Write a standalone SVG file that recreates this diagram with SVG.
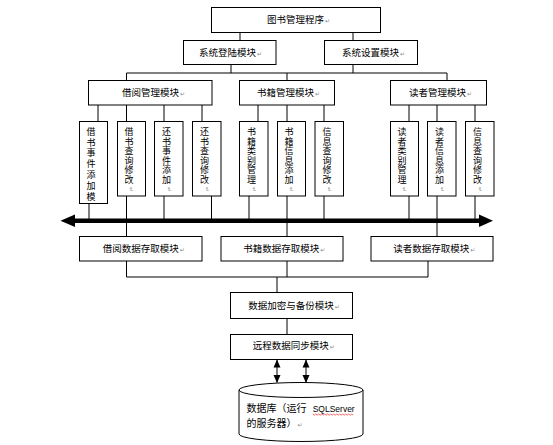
<svg xmlns="http://www.w3.org/2000/svg" width="553" height="445" viewBox="0 0 553 445">
<style>
.box{fill:#fff;stroke:#000;stroke-width:1}
.ln{fill:none;stroke:#000;stroke-width:1}
.t{font-family:"Noto Sans CJK SC","DejaVu Sans",sans-serif;font-size:9.5px;fill:#000}
.v{font-family:"Noto Sans CJK SC","DejaVu Sans",sans-serif;font-size:9px;fill:#000;text-anchor:middle}
.pm{font-family:"DejaVu Sans",sans-serif;font-size:6px;fill:#888}
.lat{font-family:"Liberation Sans",sans-serif;font-size:9px;fill:#000}
</style>
<defs>
<marker id="ah" viewBox="0 0 8 8" refX="7.5" refY="4" markerWidth="8" markerHeight="8" markerUnits="userSpaceOnUse" orient="auto-start-reverse">
<path d="M0,0.5 L8,4 L0,7.5 Z" fill="#000"/>
</marker>
</defs>
<rect width="553" height="445" fill="#fff"/>

<g id="connectors">
<path class="ln" d="M240,32.5V40.5 M353,32.5V40.5 M231,64.5V73 M353,64.5V73 M126.5,73H447 M126.5,73V80.5 M287,73V80.5 M447,73V80.5"/>
<path class="ln" d="M98,105V121.5 M126.5,105V121.5 M164,105V121.5 M202,105V121.5 M258,105V121.5 M287,105V121.5 M324,105V121.5 M409,105V121.5 M437,105V121.5 M475,105V121.5"/>
<path class="ln" d="M89,203.5V220 M126.5,196V236.5 M164,196V220 M211.5,196V220 M249,196V220 M287,196V236.5 M324,196V220 M409,196V220 M437,196V236.5 M475,196V220"/>
<path class="ln" d="M126.5,261V277 M287,261V277 M428,261V277 M126.5,277H428 M277,277V292.5 M287,318.5V334.5"/>
<g id="bus">
<line x1="73" y1="220.7" x2="481" y2="220.7" stroke="#000" stroke-width="4.5"/>
<polygon points="60.5,220.7 75,214.5 75,226.9" fill="#000"/>
<polygon points="493,220.7 479,214.5 479,226.9" fill="#000"/>
</g>
<line class="ln" x1="277" y1="360" x2="277" y2="382.5" marker-start="url(#ah)" marker-end="url(#ah)"/>
<line class="ln" x1="306" y1="360" x2="306" y2="382.5" marker-start="url(#ah)" marker-end="url(#ah)"/>
</g>

<g id="n-root"><rect class="box" x="211.5" y="7.5" width="169" height="25"/><text class="t" x="267" y="23.3">图书管理程序<tspan class="pm" dx="1">↵</tspan></text></g>
<g id="n-login"><rect class="box" x="183.5" y="40.5" width="92.5" height="24"/><text class="t" x="199" y="56">系统登陆模块<tspan class="pm" dx="1">↵</tspan></text></g>
<g id="n-setting"><rect class="box" x="324.5" y="40.5" width="93" height="24"/><text class="t" x="342" y="56">系统设置模块<tspan class="pm" dx="1">↵</tspan></text></g>

<g id="n-borrow"><rect class="box" x="88.5" y="80.5" width="123.5" height="24.5"/><text class="t" x="122" y="96">借阅管理模块<tspan class="pm" dx="1">↵</tspan></text></g>
<g id="n-book"><rect class="box" x="239.5" y="80.5" width="95" height="24.5"/><text class="t" x="257" y="96">书籍管理模块<tspan class="pm" dx="1">↵</tspan></text></g>
<g id="n-reader"><rect class="box" x="390.5" y="80.5" width="96" height="24.5"/><text class="t" x="409" y="96">读者管理模块<tspan class="pm" dx="1">↵</tspan></text></g>

<g id="n-b1"><rect class="box" x="79.5" y="121.5" width="28" height="82"/><text class="v" x="91 91 91 91 91 91 91" y="134.7 145.5 156.3 167.1 177.9 188.7 199.5">借书事件添加模</text></g>
<g id="n-b2"><rect class="box" x="117.5" y="121.5" width="28" height="74.5"/><text class="v" x="129 129 129 129 129 129" y="135 144.6 154.2 163.8 173.4 183">借书查询修改</text><text class="pm" x="127" y="189" transform="rotate(90 129 189)">↵</text></g>
<g id="n-b3"><rect class="box" x="154.5" y="121.5" width="28.5" height="74.5"/><text class="v" x="166.5 166.5 166.5 166.5 166.5 166.5" y="135 144.6 154.2 163.8 173.4 183">还书事件添加</text><text class="pm" x="164.5" y="189" transform="rotate(90 166.5 189)">↵</text></g>
<g id="n-b4"><rect class="box" x="192.5" y="121.5" width="28.5" height="74.5"/><text class="v" x="204.5 204.5 204.5 204.5 204.5 204.5" y="135 144.6 154.2 163.8 173.4 183">还书查询修改</text><text class="pm" x="202.5" y="189" transform="rotate(90 204.5 189)">↵</text></g>
<g id="n-k1"><rect class="box" x="239.5" y="121.5" width="28.5" height="74.5"/><text class="v" x="251.5 251.5 251.5 251.5 251.5 251.5" y="135 144.6 154.2 163.8 173.4 183">书籍类别管理</text><text class="pm" x="249.5" y="189" transform="rotate(90 251.5 189)">↵</text></g>
<g id="n-k2"><rect class="box" x="277.5" y="121.5" width="28" height="74.5"/><text class="v" x="289 289 289 289 289 289" y="135 144.6 154.2 163.8 173.4 183">书籍信息添加</text><text class="pm" x="287" y="189" transform="rotate(90 289 189)">↵</text></g>
<g id="n-k3"><rect class="box" x="315" y="121.5" width="28.5" height="74.5"/><text class="v" x="327 327 327 327 327 327" y="135 144.6 154.2 163.8 173.4 183">信息查询修改</text><text class="pm" x="325" y="189" transform="rotate(90 327 189)">↵</text></g>
<g id="n-r1"><rect class="box" x="390.5" y="121.5" width="28" height="74.5"/><text class="v" x="402 402 402 402 402 402" y="135 144.6 154.2 163.8 173.4 183">读者类别管理</text><text class="pm" x="400" y="189" transform="rotate(90 402 189)">↵</text></g>
<g id="n-r2"><rect class="box" x="427.5" y="121.5" width="28.5" height="74.5"/><text class="v" x="439.5 439.5 439.5 439.5 439.5 439.5" y="135 144.6 154.2 163.8 173.4 183">读者信息添加</text><text class="pm" x="437.5" y="189" transform="rotate(90 439.5 189)">↵</text></g>
<g id="n-r3"><rect class="box" x="465.5" y="121.5" width="28.5" height="74.5"/><text class="v" x="477.5 477.5 477.5 477.5 477.5 477.5" y="135 144.6 154.2 163.8 173.4 183">信息查询修改</text><text class="pm" x="475.5" y="189" transform="rotate(90 477.5 189)">↵</text></g>

<g id="n-d1"><rect class="box" x="79.5" y="236.5" width="122.5" height="24.5"/><text class="t" x="102.7" y="252.3">借阅数据存取模块<tspan class="pm" dx="1">↵</tspan></text></g>
<g id="n-d2"><rect class="box" x="221" y="236.5" width="122" height="24.5"/><text class="t" x="243.3" y="252.3">书籍数据存取模块<tspan class="pm" dx="1">↵</tspan></text></g>
<g id="n-d3"><rect class="box" x="371" y="236.5" width="122" height="24.5"/><text class="t" x="393.3" y="252.3">读者数据存取模块<tspan class="pm" dx="1">↵</tspan></text></g>

<g id="n-enc"><rect class="box" x="230.5" y="292.5" width="122" height="26"/><text class="t" x="248.3" y="308.8">数据加密与备份模块<tspan class="pm" dx="1">↵</tspan></text></g>
<g id="n-sync"><rect class="box" x="230.5" y="334.5" width="122" height="25"/><text class="t" x="252.7" y="348.8">远程数据同步模块<tspan class="pm" dx="1">↵</tspan></text></g>

<g id="n-db">
<path class="box" d="M239,390 V434 A62,7.5 0 0 0 363,434 V390 A62,7.5 0 0 0 239,390 Z"/>
<path class="ln" d="M239,390 A62,7.5 0 0 0 363,390"/>
<text class="t" x="246.5" y="412" style="font-size:10px">数据库（运行</text>
<text class="lat" x="312.7" y="411.5" textLength="42" lengthAdjust="spacingAndGlyphs">SQLServer</text>
<path d="M312.7,414 l1.5,1.2 l1.5,-1.2 l1.5,1.2 l1.5,-1.2 l1.5,1.2 l1.5,-1.2 l1.5,1.2 l1.5,-1.2 l1.5,1.2 l1.5,-1.2 l1.5,1.2 l1.5,-1.2 l1.5,1.2 l1.5,-1.2 l1.5,1.2 l1.5,-1.2 l1.5,1.2 l1.5,-1.2 l1.5,1.2 l1.5,-1.2 l1.5,1.2 l1.5,-1.2 l1.5,1.2 l1.5,-1.2 l1.5,1.2 l1.5,-1.2 l1.5,1.2" fill="none" stroke="#e00" stroke-width="0.6"/>
<text class="t" x="246.5" y="426.5" style="font-size:10px">的服务器）<tspan class="pm" dx="1">↵</tspan></text>
</g>
</svg>
